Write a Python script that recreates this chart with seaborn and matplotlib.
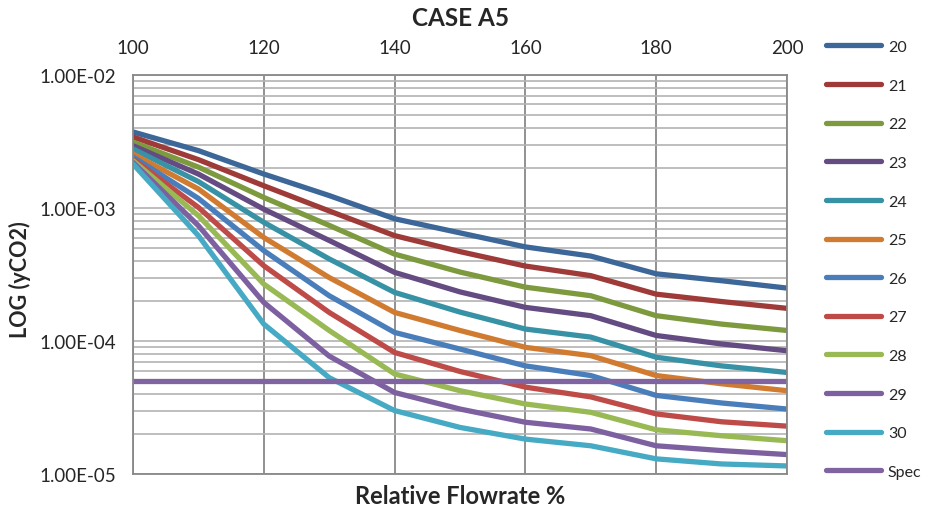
import numpy as np
import pandas as pd
import seaborn as sns
import matplotlib.pyplot as plt
from matplotlib.ticker import FuncFormatter, LogLocator, NullFormatter

flow = [100, 110, 120, 130, 140, 150, 160, 170, 180, 190, 200]

s20 = [3.73e-3, 2.70e-3, 1.80e-3, 1.24e-3, 8.3e-4, 6.5e-4, 5.1e-4, 4.35e-4, 3.2e-4, 2.84e-4, 2.5e-4]
s21 = [3.42e-3, 2.31e-3, 1.47e-3, 9.5e-4, 6.2e-4, 4.7e-4, 3.66e-4, 3.1e-4, 2.25e-4, 1.98e-4, 1.76e-4]
s22 = [3.13e-3, 2.03e-3, 1.20e-3, 7.4e-4, 4.5e-4, 3.3e-4, 2.54e-4, 2.19e-4, 1.55e-4, 1.34e-4, 1.2e-4]
s23 = [2.94e-3, 1.80e-3, 9.8e-4, 5.7e-4, 3.28e-4, 2.34e-4, 1.79e-4, 1.55e-4, 1.1e-4, 9.5e-5, 8.45e-5]
s24 = [2.78e-3, 1.58e-3, 7.8e-4, 4.14e-4, 2.32e-4, 1.65e-4, 1.23e-4, 1.07e-4, 7.55e-5, 6.5e-5, 5.8e-5]
s25 = [2.55e-3, 1.39e-3, 6.0e-4, 3.0e-4, 1.64e-4, 1.2e-4, 8.96e-5, 7.76e-5, 5.5e-5, 4.77e-5, 4.23e-5]
s26 = [2.42e-3, 1.18e-3, 4.78e-4, 2.19e-4, 1.16e-4, 8.7e-5, 6.5e-5, 5.5e-5, 3.9e-5, 3.42e-5, 3.08e-5]
s27 = [2.33e-3, 1.01e-3, 3.68e-4, 1.64e-4, 8.2e-5, 5.9e-5, 4.5e-5, 3.8e-5, 2.83e-5, 2.47e-5, 2.29e-5]
s28 = [2.27e-3, 8.75e-4, 2.68e-4, 1.2e-4, 5.65e-5, 4.23e-5, 3.36e-5, 2.91e-5, 2.15e-5, 1.94e-5, 1.78e-5]
s29 = [2.20e-3, 7.36e-4, 1.95e-4, 7.7e-5, 4.1e-5, 3.08e-5, 2.45e-5, 2.18e-5, 1.63e-5, 1.5e-5, 1.4e-5]
s30 = [2.14e-3, 6.19e-4, 1.34e-4, 5.3e-5, 3.0e-5, 2.24e-5, 1.83e-5, 1.63e-5, 1.3e-5, 1.19e-5, 1.15e-5]
spec = [5e-5] * len(flow)

names = ["20", "21", "22", "23", "24", "25", "26", "27", "28", "29", "30", "Spec"]
series = [s20, s21, s22, s23, s24, s25, s26, s27, s28, s29, s30, spec]
colors = ["#3C6798", "#9E3B39", "#7D9A3F", "#644C82", "#3792A5", "#D17B31",
          "#4A7EBB", "#BE4B48", "#98B954", "#7D60A0", "#46AAC5", "#8064A2"]

rows = []
for name, vals in zip(names, series):
    for x, v in zip(flow, vals):
        rows.append({"flow": x, "y": v, "case": name})
df = pd.DataFrame(rows)

sns.set_style("white")
plt.rcParams["font.family"] = ["Lato", "DejaVu Sans"]

fig = plt.figure(figsize=(9.25, 5.1), dpi=100)
ax = fig.add_axes([0.1438, 0.0686, 0.707, 0.7824])

sns.lineplot(data=df, x="flow", y="y", hue="case", hue_order=names,
             palette=colors, linewidth=3.8, sort=False, ax=ax, legend=True)

ax.set_yscale("log")
ax.set_ylim(1e-5, 1e-2)
ax.set_xlim(100, 200)
ax.set_xticks(range(100, 201, 20))
ax.xaxis.tick_top()
ax.tick_params(axis="x", labelsize=13.5, length=0, pad=14)
ax.tick_params(axis="y", which="both", labelsize=13.5, length=0, pad=12)
ax.yaxis.set_major_locator(LogLocator(base=10))
ax.yaxis.set_minor_locator(LogLocator(base=10, subs=np.arange(2, 10)))
ax.yaxis.set_major_formatter(FuncFormatter(lambda v, p: f"{v:.2E}"))
ax.yaxis.set_minor_formatter(NullFormatter())

ax.grid(True, axis="y", which="both", color="#b3b3b3", linewidth=1.2)
ax.grid(True, axis="x", which="major", color="#888888", linewidth=1.3)
ax.set_axisbelow(True)
for sp in ax.spines.values():
    sp.set_color("#888888")
    sp.set_linewidth(1.3)

ax.set_xlabel("Relative Flowrate %", fontsize=17, fontweight="bold", labelpad=7)
ax.xaxis.set_label_position("bottom")
ax.set_ylabel("LOG (yCO2)", fontsize=15.5, fontweight="bold")
ax.yaxis.set_label_coords(-0.156, 0.49)
ax.set_title("CASE A5", fontsize=17.5, fontweight="bold", pad=36)

handles, labels = ax.get_legend_handles_labels()
ax.legend_.remove()
fig.legend(handles, labels, loc="upper left", bbox_to_anchor=(0.8774, 0.948),
           frameon=False, fontsize=11.5, handlelength=3.44, labelspacing=1.53,
           handletextpad=0.44)

fig.savefig("out.png", dpi=100)
